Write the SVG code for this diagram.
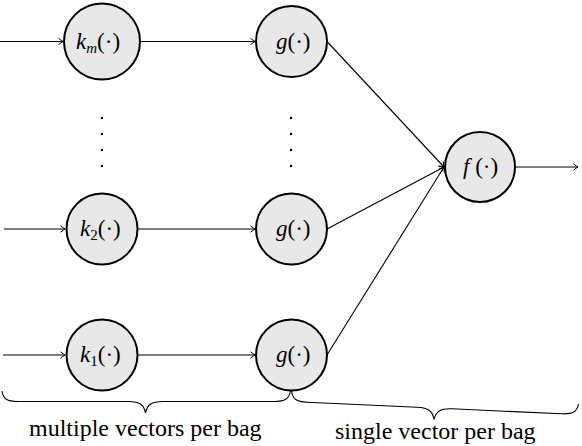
<svg xmlns="http://www.w3.org/2000/svg" width="582" height="446" viewBox="0 0 582 446">
<defs>
<marker id="arr" markerUnits="userSpaceOnUse" markerWidth="10" markerHeight="10" refX="0" refY="0" viewBox="-6 -5 8 10" orient="auto" overflow="visible">
<path d="M-4.5,-3.2 Q-1.2,-0.6 0,0 Q-1.2,0.6 -4.5,3.2" fill="none" stroke="#000" stroke-width="1"/>
</marker>
</defs>
<rect width="582" height="446" fill="#fff"/>
<g id="connectors" fill="none" stroke="#000" stroke-width="1.1">
<line x1="0" y1="41.5" x2="63" y2="41.5" marker-end="url(#arr)"/>
<line x1="140" y1="41.5" x2="255" y2="41.5" marker-end="url(#arr)"/>
<line x1="4" y1="229" x2="65" y2="229" marker-end="url(#arr)"/>
<line x1="138" y1="229" x2="255" y2="229" marker-end="url(#arr)"/>
<line x1="3" y1="355" x2="65" y2="355" marker-end="url(#arr)"/>
<line x1="138" y1="355" x2="255" y2="355" marker-end="url(#arr)"/>
<line x1="327" y1="41.5" x2="444" y2="167" marker-end="url(#arr)"/>
<line x1="327" y1="229" x2="444" y2="167" marker-end="url(#arr)"/>
<line x1="327" y1="355" x2="444" y2="167" marker-end="url(#arr)"/>
<line x1="515" y1="167" x2="578" y2="167" marker-end="url(#arr)"/>
</g>
<g id="node-km">
<circle cx="102" cy="41.5" r="38" fill="#e8e8e8" stroke="#000" stroke-width="2"/>
<text font-family="'Liberation Serif'" font-size="23" x="76" y="48.5"><tspan font-style="italic">k</tspan><tspan font-style="italic" font-size="15" dy="4">m</tspan><tspan dy="-4">(·)</tspan></text>
</g>
<g id="node-g-m">
<circle cx="291.5" cy="41.5" r="35.5" fill="#e8e8e8" stroke="#000" stroke-width="2"/>
<text font-family="'Liberation Serif'" font-size="23" x="276" y="48.5"><tspan font-style="italic">g</tspan>(·)</text>
</g>
<g id="node-k2">
<circle cx="102" cy="229" r="35.5" fill="#e8e8e8" stroke="#000" stroke-width="2"/>
<text font-family="'Liberation Serif'" font-size="23" x="80" y="236"><tspan font-style="italic">k</tspan><tspan font-size="15" dy="4">2</tspan><tspan dy="-4">(·)</tspan></text>
</g>
<g id="node-g-2">
<circle cx="291.5" cy="229" r="35.5" fill="#e8e8e8" stroke="#000" stroke-width="2"/>
<text font-family="'Liberation Serif'" font-size="23" x="276" y="236"><tspan font-style="italic">g</tspan>(·)</text>
</g>
<g id="node-k1">
<circle cx="102" cy="355" r="35.5" fill="#e8e8e8" stroke="#000" stroke-width="2"/>
<text font-family="'Liberation Serif'" font-size="23" x="80" y="362"><tspan font-style="italic">k</tspan><tspan font-size="15" dy="4">1</tspan><tspan dy="-4">(·)</tspan></text>
</g>
<g id="node-g-1">
<circle cx="291.5" cy="355" r="35.5" fill="#e8e8e8" stroke="#000" stroke-width="2"/>
<text font-family="'Liberation Serif'" font-size="23" x="276" y="362"><tspan font-style="italic">g</tspan>(·)</text>
</g>
<g id="node-f">
<circle cx="480" cy="167" r="35" fill="#e8e8e8" stroke="#000" stroke-width="2"/>
<text font-family="'Liberation Serif'" font-size="23" x="463" y="174"><tspan font-style="italic">f</tspan> (·)</text>
</g>
<g id="dots" fill="#000">
<circle cx="102" cy="118" r="1.2"/>
<circle cx="102" cy="134" r="1.2"/>
<circle cx="102" cy="150" r="1.2"/>
<circle cx="102" cy="166" r="1.2"/>
<circle cx="291" cy="118" r="1.2"/>
<circle cx="291" cy="134" r="1.2"/>
<circle cx="291" cy="150" r="1.2"/>
<circle cx="291" cy="166" r="1.2"/>
</g>
<g id="brace-multiple">
<path fill="none" stroke="#000" stroke-width="1.1" d="M2,391 C3,399 7,401.5 18,401.5 L128,401.5 C140,401.5 144,405 145.5,413 C147,405 151,401.5 163,401.5 L274,401.5 C285,401.5 289,399 290.5,391"/>
<text font-family="'Liberation Serif'" font-size="24" x="29" y="436">multiple vectors per bag</text>
</g>
<g id="brace-single">
<path fill="none" stroke="#000" stroke-width="1.1" transform="translate(291.5,391) rotate(2.6)" d="M0,0 C1.5,8 5.5,10.5 16,10.5 L126,10.5 C138,10.5 142,14 143.6,22 C145.2,14 149.2,10.5 161,10.5 L271,10.5 C282,10.5 286,8 287.3,0"/>
<text font-family="'Liberation Serif'" font-size="24" x="335" y="439">single vector per bag</text>
</g>
</svg>
